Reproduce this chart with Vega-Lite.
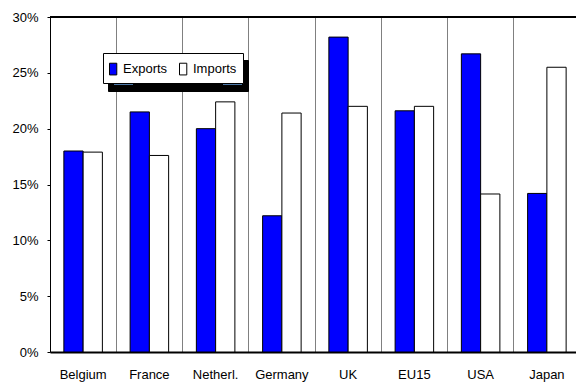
{
  "$schema": "https://vega.github.io/schema/vega-lite/v6.json",
  "width": 526,
  "height": 335,
  "autosize": {"type": "none"},
  "padding": {"left": 50, "top": 17, "right": 0, "bottom": 31},
  "background": "white",
  "config": {
    "view": {"stroke": null},
    "font": "Liberation Sans"
  },
  "data": {
    "values": [
      {"country": "Belgium", "flow": "Exports", "share": 0.180},
      {"country": "Belgium", "flow": "Imports", "share": 0.179},
      {"country": "France", "flow": "Exports", "share": 0.215},
      {"country": "France", "flow": "Imports", "share": 0.176},
      {"country": "Netherl.", "flow": "Exports", "share": 0.200},
      {"country": "Netherl.", "flow": "Imports", "share": 0.224},
      {"country": "Germany", "flow": "Exports", "share": 0.122},
      {"country": "Germany", "flow": "Imports", "share": 0.214},
      {"country": "UK", "flow": "Exports", "share": 0.282},
      {"country": "UK", "flow": "Imports", "share": 0.220},
      {"country": "EU15", "flow": "Exports", "share": 0.216},
      {"country": "EU15", "flow": "Imports", "share": 0.220},
      {"country": "USA", "flow": "Exports", "share": 0.267},
      {"country": "USA", "flow": "Imports", "share": 0.1415},
      {"country": "Japan", "flow": "Exports", "share": 0.142},
      {"country": "Japan", "flow": "Imports", "share": 0.255}
    ]
  },
  "layer": [
    {
      "mark": {"type": "bar", "stroke": "black", "strokeWidth": 1},
      "encoding": {
        "x": {
          "field": "country", "type": "nominal", "sort": null,
          "scale": {"range": [0, 530], "paddingInner": 0, "paddingOuter": 0},
          "axis": {
            "title": null, "bandPosition": 0, "grid": true, "gridColor": "#808080", "gridWidth": 1,
            "ticks": false, "domainColor": "black", "domainWidth": 2, "labelAngle": 0,
            "labelPadding": 16, "labelFontSize": 13, "labelColor": "black",
            "labelFont": "Liberation Sans"
          }
        },
        "xOffset": {"field": "flow", "type": "nominal", "scale": {"paddingInner": 0, "paddingOuter": 0.72}},
        "y": {
          "field": "share", "type": "quantitative",
          "scale": {"domain": [0, 0.3], "nice": false},
          "axis": {
            "title": null, "values": [0, 0.05, 0.1, 0.15, 0.2, 0.25, 0.3], "format": ".0%",
            "grid": false, "domainColor": "black", "tickColor": "black", "tickSize": 3,
            "labelPadding": 9, "labelFontSize": 13, "labelColor": "black", "labelFont": "Liberation Sans"
          }
        },
        "fill": {
          "field": "flow", "type": "nominal",
          "scale": {"domain": ["Exports", "Imports"], "range": ["#0000ff", "#ffffff"]},
          "legend": {
            "title": null, "orient": "none", "legendX": 53, "legendY": 36, "direction": "horizontal",
            "fillColor": "white", "strokeColor": "black", "padding": 6,
            "symbolType": "M-1,-0.616H-0.232V0.616H-1Z", "symbolSize": 361,
            "symbolStrokeColor": "black", "symbolStrokeWidth": 1,
            "labelOffset": -6, "columnPadding": 9, "labelFontSize": 13, "labelColor": "black",
            "labelFont": "Liberation Sans", "zindex": 1
          }
        }
      }
    },
    {
      "mark": {"type": "bar", "opacity": 0},
      "encoding": {
        "stroke": {
          "field": "flow", "type": "nominal",
          "scale": {"range": ["black", "black"]},
          "legend": {
            "title": null, "orient": "none", "legendX": 58, "legendY": 43, "direction": "horizontal",
            "fillColor": "black", "strokeColor": "black", "padding": 6,
            "symbolType": "square", "symbolSize": 361,
            "symbolFillColor": "black", "symbolStrokeWidth": 0,
            "labelExpr": "''", "labelOffset": 0, "columnPadding": 90, "labelFontSize": 13,
            "zindex": 0
          }
        }
      }
    },
    {
      "mark": {"type": "rule", "color": "black", "strokeWidth": 1},
      "encoding": {"y": {"datum": 0.3}}
    }
  ]
}
